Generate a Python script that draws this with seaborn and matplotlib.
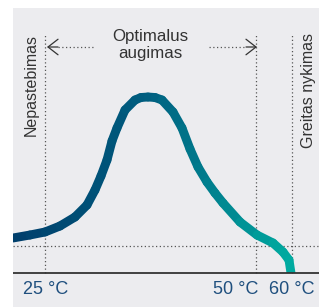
import numpy as np
import pandas as pd
import matplotlib
matplotlib.use("Agg")
import matplotlib.pyplot as plt
import seaborn as sns
from matplotlib.colors import LinearSegmentedColormap
from matplotlib.patches import Rectangle

# ===== data (x on a drawing scale, y = relative growth) =====
curve_x = [13, 30, 45, 60, 75, 87, 95, 101, 107, 112, 117, 125, 135, 141, 148,
           155, 162, 173, 182, 190, 198, 207, 215, 223, 240, 257, 273, 283, 289, 291]
curve_y = [35, 38, 41, 47, 56, 68, 83, 97, 113, 132, 145, 163, 173, 175.5, 176,
           175.5, 173, 161, 145, 124, 106, 91, 80, 70, 51, 38, 30, 21, 13, 0]
temp_labels = ["25 °C", "50 °C", "60 °C"]
temp_lines = [45, 256, 292]
label_pos = [46, 236, 292]
baseline_level = 27
zone_labels = ["Nepastebimas", "Optimalus\naugimas", "Greitas nykimas"]

bg = "#ececef"
sns.set_theme(style="white", rc={"axes.facecolor": bg, "figure.facecolor": "white"})
plt.rcParams["font.family"] = ["Liberation Sans", "DejaVu Sans"]

fig = plt.figure(figsize=(3.19, 3.07), dpi=100)
ax = fig.add_axes([13 / 319, 0, 306 / 319, 299 / 307])
ax.set_xlim(13, 319)
ax.set_ylim(-34, 265)
ax.axis("off")
ax.add_patch(Rectangle((0, 0), 1, 1, transform=ax.transAxes, color=bg, zorder=0))

# ===== gradient curve: one short segment per hue =====
cmap = LinearSegmentedColormap.from_list("g", ["#003d6b", "#005f80", "#00aaa0"])
rows = []
for i in range(len(curve_x) - 1):
    for j in (i, i + 1):
        rows.append({"seg": i, "x": curve_x[j], "y": curve_y[j]})
df = pd.DataFrame(rows)
mids = [(curve_x[i] + curve_x[i + 1]) / 2 for i in range(len(curve_x) - 1)]
pal = [cmap((m - 13) / (291 - 13)) for m in mids]
sns.lineplot(data=df, x="x", y="y", hue="seg", palette=pal, sort=False,
             estimator=None, lw=6.4, legend=False, ax=ax, zorder=3)
clip = Rectangle((13, 0), 306, 265, transform=ax.transData)
for ln in ax.get_lines():
    ln.set_solid_capstyle("round")
    ln.set_clip_path(clip)

# ===== reference lines =====
dot = dict(color="#555555", lw=0.9, ls=(0, (1, 2)), zorder=2)
for x in temp_lines:
    ax.plot([x, x], [0, 240], **dot)
ax.plot([13, 319], [baseline_level, baseline_level], **dot)
ax.plot([13, 319], [0, 0], color="#333333", lw=1.3, zorder=4)

# arrows for optimal range
ay = 226
ax.plot([58, 93], [ay, ay], **dot)
ax.plot([209, 244], [ay, ay], **dot)
head = dict(arrowstyle="->,head_length=0.45,head_width=0.35", color="#333333",
            lw=0.9, mutation_scale=16, shrinkA=0, shrinkB=0)
ax.annotate("", xy=(47, ay), xytext=(58, ay), arrowprops=head)
ax.annotate("", xy=(257, ay), xytext=(246, ay), arrowprops=head)

# ===== texts =====
txt = "#333333"
ax.text(31, 188, zone_labels[0], rotation=90, ha="center", va="center",
        fontsize=11.5, color=txt)
ax.text(150, 228, zone_labels[1], ha="center", va="center", fontsize=12.2,
        color=txt, linespacing=1.1)
ax.text(309, 183, zone_labels[2], rotation=90, ha="center", va="center",
        fontsize=11.5, color=txt)
for lab, x in zip(temp_labels, label_pos):
    ax.text(x, -16, lab, ha="center", va="center", fontsize=13, color="#1f4f7e")

fig.savefig("out.png", dpi=100)
